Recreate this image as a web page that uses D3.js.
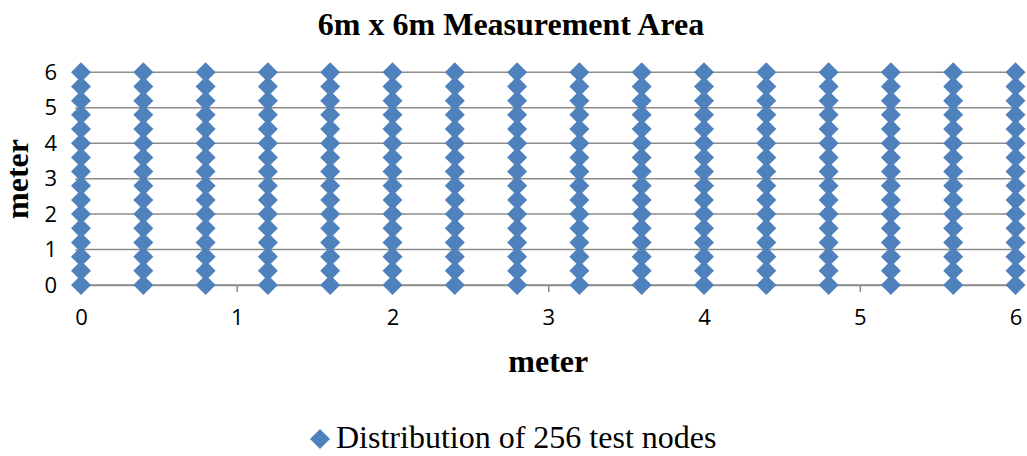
<!DOCTYPE html>
<html>
<head>
<meta charset="utf-8">
<script src="https://cdn.jsdelivr.net/npm/d3@7"></script>
<style>
  body { margin: 0; background: #fff; }
  svg { display: block; }
</style>
</head>
<body>
<svg id="chart" width="1027" height="456"></svg>
<script>
// node positions (meter) along each direction
var xPositions = [0, 0.4, 0.8, 1.2, 1.6, 2.0, 2.4, 2.8, 3.2, 3.6, 4.0, 4.4, 4.8, 5.2, 5.6, 6.0];
var yPositions = [0, 0.4, 0.8, 1.2, 1.6, 2.0, 2.4, 2.8, 3.2, 3.6, 4.0, 4.4, 4.8, 5.2, 5.6, 6.0];
var xTicks = [0, 1, 2, 3, 4, 5, 6];
var yTicks = [0, 1, 2, 3, 4, 5, 6];
var seriesName = "Distribution of 256 test nodes";
var chartTitle = "6m x 6m Measurement Area";

var svg = d3.select("#chart");
var blue = "#4f81bd", grid = "#8c8c8c";
var tickFont = "'Open Sans', 'Liberation Sans', sans-serif";
var serif = "'Liberation Serif', 'Times New Roman', serif";

var xScale = d3.scaleLinear().domain([0, 6]).range([81, 1015.5]);
var yScale = d3.scaleLinear().domain([0, 6]).range([285, 72.3]);

// build the 256 nodes from the two position lists
var nodes = [];
xPositions.forEach(function(x) {
    yPositions.forEach(function(y) {
        nodes.push({ x: x, y: y });
    });
});

var diamond = function(r) {
    return "M0," + -r + "L" + r + ",0L0," + r + "L" + -r + ",0Z";
};

// title
svg.append("text")
    .attr("x", 511).attr("y", 35)
    .attr("text-anchor", "middle")
    .style("font-family", serif).style("font-weight", "bold").style("font-size", "32px")
    .text(chartTitle);

// horizontal gridlines
svg.append("g")
    .selectAll("line")
    .data(yTicks)
    .enter()
    .append("line")
    .attr("x1", xScale(0)).attr("x2", xScale(6))
    .attr("y1", function(d) { return yScale(d); })
    .attr("y2", function(d) { return yScale(d); })
    .attr("stroke", grid).attr("stroke-width", 1.5);

// x axis
var xAxis = svg.append("g")
    .attr("transform", "translate(0," + yScale(0) + ")")
    .call(d3.axisBottom(xScale).tickValues(xTicks).tickFormat(d3.format("d")).tickSizeInner(7).tickSizeOuter(0).tickPadding(17));
xAxis.select(".domain").attr("stroke", grid).attr("stroke-width", 1.5);
xAxis.selectAll(".tick line").attr("stroke", grid).attr("stroke-width", 1.5);
xAxis.selectAll(".tick text")
    .style("font-family", tickFont).style("font-size", "22px").attr("fill", "#000");

// y axis
var yAxis = svg.append("g")
    .attr("transform", "translate(" + xScale(0) + ",0)")
    .call(d3.axisLeft(yScale).tickValues(yTicks).tickFormat(d3.format("d")).tickSizeInner(6).tickSizeOuter(0).tickPadding(18));
yAxis.select(".domain").attr("stroke", grid).attr("stroke-width", 1.5);
yAxis.selectAll(".tick line").attr("stroke", grid).attr("stroke-width", 1.5);
yAxis.selectAll(".tick text")
    .style("font-family", tickFont).style("font-size", "22px").attr("fill", "#000");

// axis titles
svg.append("text")
    .attr("x", xScale(3)).attr("y", 372)
    .attr("text-anchor", "middle")
    .style("font-family", serif).style("font-weight", "bold").style("font-size", "32px")
    .text("meter");

svg.append("text")
    .attr("transform", "translate(28," + 179 + ") rotate(-90)")
    .attr("text-anchor", "middle")
    .style("font-family", serif).style("font-weight", "bold").style("font-size", "32px")
    .text("meter");

// markers
svg.append("g")
    .selectAll("path")
    .data(nodes)
    .enter()
    .append("path")
    .attr("transform", function(d) {
        return "translate(" + xScale(d.x) + "," + yScale(d.y) + ")";
    })
    .attr("d", diamond(10))
    .attr("fill", blue);

// legend
var legend = svg.append("g").attr("transform", "translate(320,439)");
legend.append("path").attr("d", diamond(10)).attr("fill", blue);
legend.append("text")
    .attr("x", 16).attr("y", 9)
    .style("font-family", serif).style("font-size", "32px")
    .text(seriesName);
</script>
</body>
</html>
